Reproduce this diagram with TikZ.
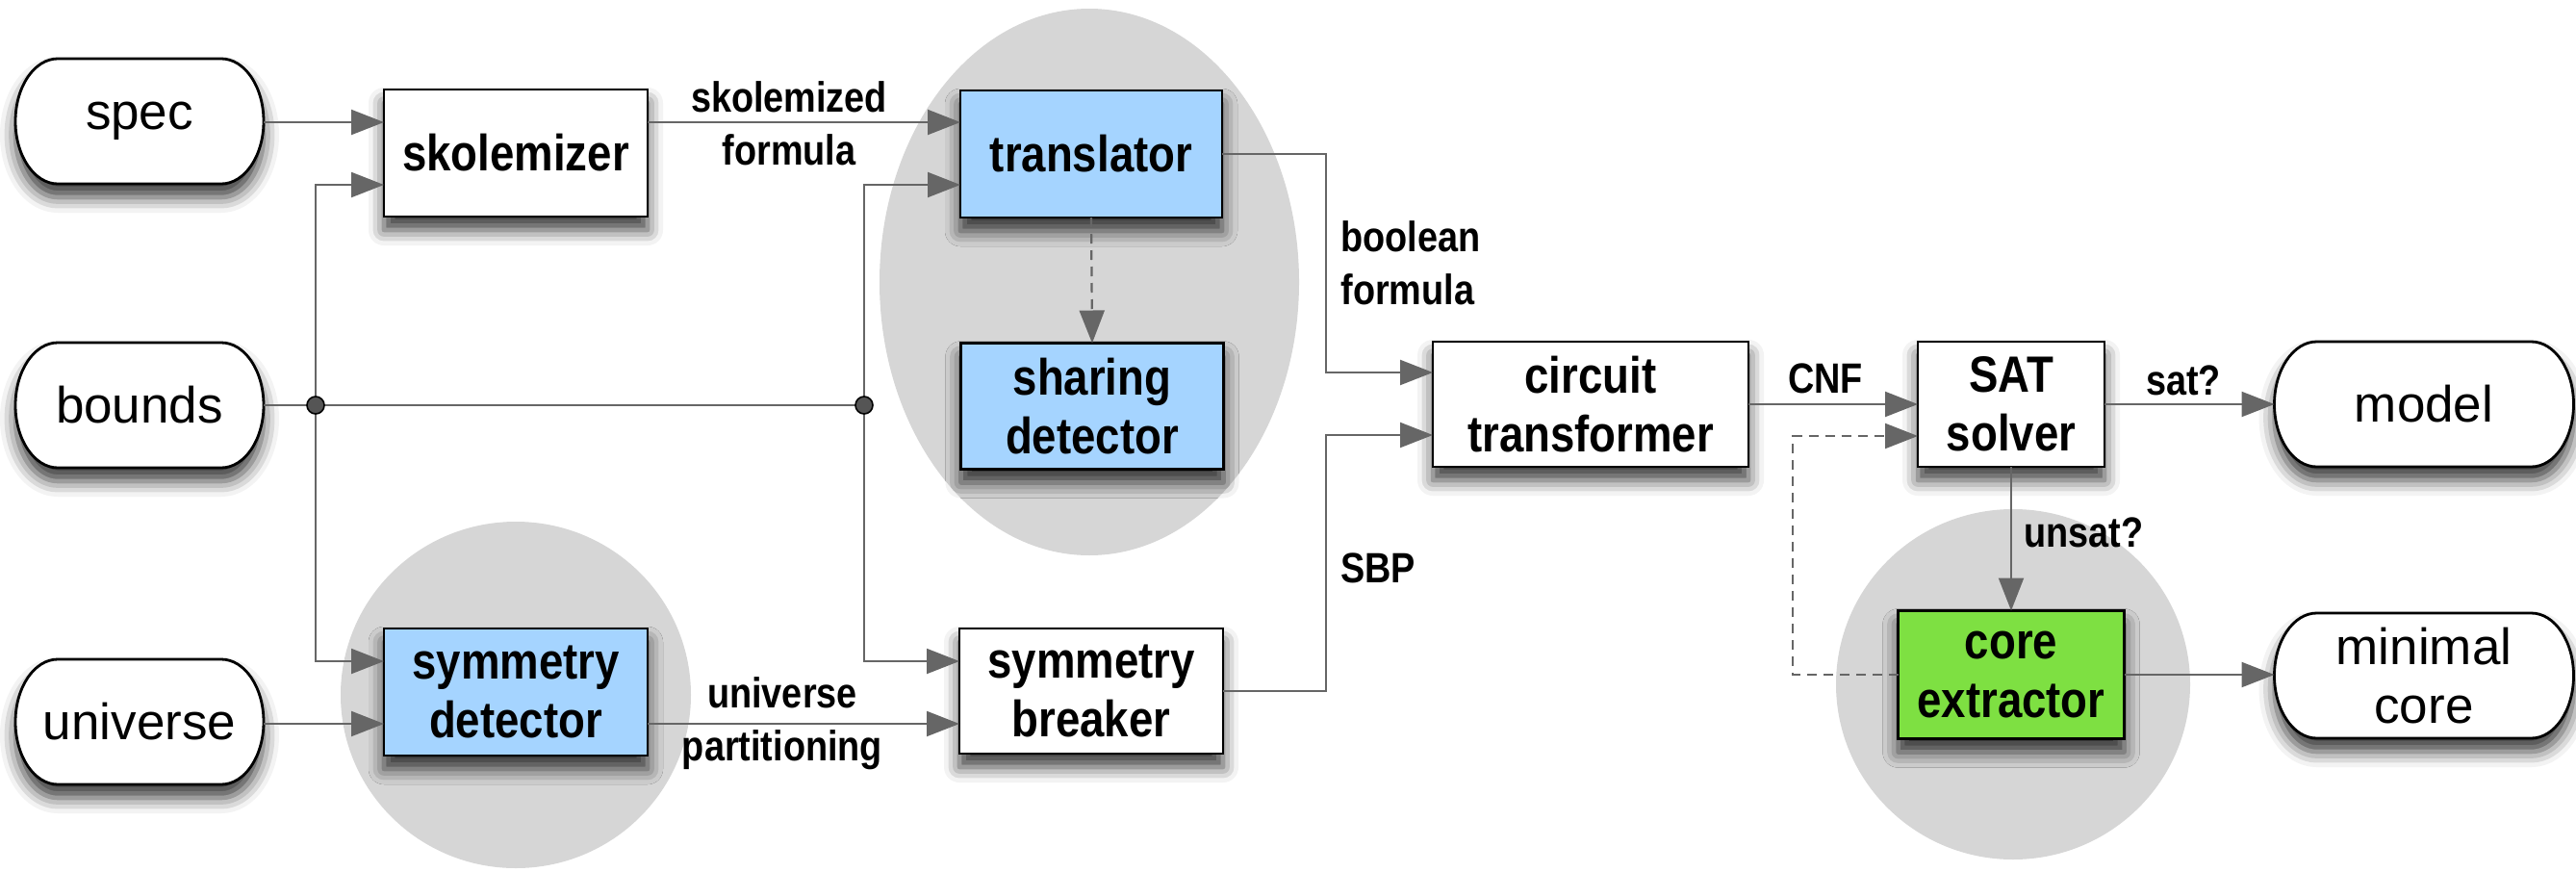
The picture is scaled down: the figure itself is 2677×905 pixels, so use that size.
\documentclass[tikz,border=0pt]{standalone}
\usepackage{fontspec}
\setmainfont{Liberation Sans}
\newfontfamily\cnd{Liberation Sans}[FakeStretch=0.86]
\usetikzlibrary{arrows.meta,shadows.blur}
\definecolor{cgray}{HTML}{666666}
\definecolor{ellgray}{HTML}{D6D6D6}
\definecolor{bluebox}{HTML}{A5D4FF}
\definecolor{greenbox}{HTML}{7EE042}
\definecolor{dotgray}{HTML}{555555}
\tikzset{
  shd/.style={blur shadow={shadow xshift=0pt, shadow yshift=-7pt, shadow blur radius=8pt, shadow opacity=78}},
  box/.style={draw=black, line width=1.4pt, fill=white, shd, inner sep=0pt, outer sep=0pt, align=center,
    font=\cnd\bfseries\fontsize{26.5pt}{30.5pt}\selectfont},
  bluebx/.style={box, fill=bluebox},
  greenbx/.style={box, fill=greenbox},
  term/.style={inner sep=0pt, outer sep=0pt, minimum width=129pt, minimum height=65pt, align=center,
    font=\fontsize{26.5pt}{30.5pt}\selectfont},
  termline/.style={draw=black, line width=1.4pt, fill=white, shd},
  conn/.style={draw=cgray, line width=1.1pt, -{Triangle[length=17pt,width=13pt]}},
  dconn/.style={conn, dash pattern=on 5pt off 3.5pt},
  lbl/.style={inner sep=0pt, align=center, font=\cnd\bfseries\fontsize{22pt}{27.5pt}\selectfont},
  dot/.style={circle, fill=dotgray, draw=black, line width=0.8pt, minimum size=9pt, inner sep=0pt},
  blob/.style={fill=ellgray, draw=none}
}
% terminal outline: centre x, centre y (px), half width (pt)
\newcommand\termat[3]{\path[termline, shift={(#1,#2)}] ({-#3pt+22pt},32.5pt) -- ({#3pt-22pt},32.5pt)
  arc[start angle=90,end angle=-90,x radius=22pt,y radius=32.5pt] -- ({-#3pt+22pt},-32.5pt)
  arc[start angle=270,end angle=90,x radius=22pt,y radius=32.5pt] -- cycle;}
\begin{document}
\begin{tikzpicture}[x=0.5pt,y=-0.5pt]
\useasboundingbox (0,0) rectangle (2677,905);
% background blobs
\fill[blob] (1132,293) ellipse [x radius=109pt, y radius=142pt];
\fill[blob] (536,722) ellipse [x radius=91pt, y radius=90pt];
\fill[blob] (2092,711) ellipse [x radius=92pt, y radius=91pt];
% terminal outlines
\termat{145}{126}{64.5}
\termat{145}{421}{64.5}
\termat{145}{750}{64.5}
\termat{2519}{420}{77.75}
\termat{2519}{702}{77.75}
% terminals
\node[term] (spec) at (145,126) {spec};
\node[term] (bounds) at (145,421) {bounds};
\node[term] (universe) at (145,750) {universe};
\node[term, minimum width=155.5pt] (model) at (2519,420) {model};
\node[term, minimum width=155.5pt] (mincore) at (2519,702) {minimal\\core};
% boxes
\node[box, minimum width=137pt, minimum height=66pt] (skol) at (536,159) {skolemizer};
\node[bluebx, minimum width=137pt, minimum height=66pt] (symdet) at (536,719) {symmetry\\detector};
\node[bluebx, minimum width=136pt, minimum height=66pt] (trans) at (1134,160) {translator};
\node[bluebx, minimum width=136.5pt, minimum height=65.5pt] (share) at (1135,422) {sharing\\detector};
\node[box, minimum width=137pt, minimum height=65pt] (breaker) at (1134,718) {symmetry\\breaker};
\node[box, minimum width=164pt, minimum height=65pt] (circuit) at (1653,420) {circuit\\transformer};
\node[box, minimum width=97pt, minimum height=65pt] (sat) at (2090,420) {SAT\\solver};
\node[greenbx, minimum width=117.5pt, minimum height=66.5pt] (core) at (2090,701) {core\\extractor};
% routing coordinates
\coordinate (r127) at (0,127);
\coordinate (r192) at (0,192);
\coordinate (r687) at (0,687);
\coordinate (r752) at (0,752);
\coordinate (cj1) at (328,421);
\coordinate (cj2) at (898,421);
\coordinate (bA) at (1378,387);
\coordinate (bB) at (1378,452);
\coordinate (dA) at (1863,453);
% connectors
\draw[conn] (spec.east |- r127) -- (skol.west |- r127);
\draw[draw=cgray, line width=1.1pt] (bounds.east) -- (cj2);
\draw[conn] (cj1) |- (skol.west |- r192);
\draw[conn] (cj1) |- (symdet.west |- r687);
\draw[conn] (cj2) |- (trans.west |- r192);
\draw[conn] (cj2) |- (breaker.west |- r687);
\draw[conn] (skol.east |- r127) -- (trans.west |- r127);
\draw[conn] (universe.east |- r752) -- (symdet.west |- r752);
\draw[conn] (symdet.east |- r752) -- (breaker.west |- r752);
\draw[dconn] (trans.south) -- (share.north);
\draw[conn] (trans.east) -| (bA) -- (circuit.west |- bA);
\draw[conn] (breaker.east) -| (bB) -- (circuit.west |- bB);
\draw[conn] (circuit.east) -- (sat.west);
\draw[conn] (sat.east) -- (model.west);
\draw[conn] (sat.south) -- (core.north);
\draw[conn] (core.east) -- (core.east -| mincore.west);
\draw[dconn] (core.west) -| (dA) -- (sat.west |- dA);
% junction dots
\node[dot] (j1) at (cj1) {};
\node[dot] (j2) at (cj2) {};
% labels
\node[lbl] (lskol) at (820,128) {skolemized\\formula};
\node[lbl] (lpart) at (813,752) {universe\\partitioning};
\node[lbl, anchor=west, align=left] (lbool) at (1393,273) {boolean\\formula};
\node[lbl, anchor=west] (lsbp) at (1393,590) {SBP};
\node[lbl] (lcnf) at (1897,393) {CNF};
\node[lbl] (lsat) at (2269,395) {sat?};
\node[lbl, anchor=west] (lunsat) at (2103,553) {unsat?};
\end{tikzpicture}
\end{document}
